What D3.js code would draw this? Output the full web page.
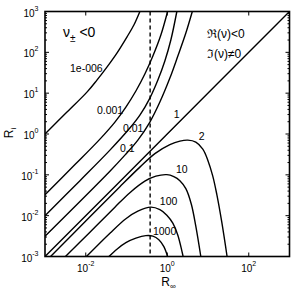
<!DOCTYPE html>
<html><head><meta charset="utf-8">
<script src="https://cdn.jsdelivr.net/npm/d3@7"></script>
<style>body{margin:0;background:#fff}svg{display:block}</style>
</head><body>
<script>
// ---- data (R_inf, R_i) ----
const levelNames = ["1e-006","0.001","0.01","0.1","1","2","10","100","1000"];
const c1e6  = [[0.001,1.0],[0.00327,3.25],[0.0107,10.6],[0.0188,20.9],[0.0331,43.6],[0.0582,96.1],[0.1023,237],[0.1518,467],[0.213,1000]];
const c0001 = [[0.001,0.0327],[0.00544,0.178],[0.0223,0.75],[0.052,1.96],[0.0966,4.56],[0.17,11.3],[0.282,29.4],[0.444,81.1],[0.697,265],[1.02,1000]];
const c001  = [[0.001,0.01],[0.00721,0.0721],[0.0392,0.403],[0.121,1.40],[0.213,2.90],[0.375,7.59],[0.589,20.9],[0.873,61.2],[1.225,200],[1.72,1000]];
const c01   = [[0.001,0.00315],[0.0392,0.123],[0.0914,0.304],[0.19,0.708],[0.375,1.96],[0.659,6.05],[1.16,23.4],[1.82,81.1],[2.86,297],[4.12,1000]];
const c1    = [[0.001,0.001],[1,1],[1000,1000]];
const c2    = [[0.00137,0.001],[0.01268,0.00944],[0.0689,0.0514],[0.213,0.1545],[0.497,0.331],[1.16,0.55],[2.04,0.67],[3.2,0.708],[5.02,0.633],[7.46,0.427],[9.89,0.229],[13.1,0.0929],[16.4,0.0337],[21.8,0.00693],[29.4,0.001]];
const c10   = [[0.00318,0.001],[0.01268,0.00394],[0.052,0.01615],[0.121,0.0366],[0.282,0.0701],[0.526,0.0929],[0.977,0.101],[1.45,0.0904],[2.04,0.0721],[2.86,0.0459],[3.9,0.0191],[5.02,0.00553],[6.66,0.001]];
const c100  = [[0.0104,0.001],[0.0392,0.00372],[0.0966,0.00843],[0.19,0.01288],[0.396,0.01615],[0.659,0.01403],[0.977,0.01028],[1.37,0.00655],[1.82,0.00333],[2.45,0.001]];
const c1000 = [[0.0371,0.001],[0.0582,0.00151],[0.0966,0.00218],[0.17,0.00281],[0.298,0.00324],[0.444,0.00315],[0.622,0.00258],[0.826,0.00174],[1.02,0.001]];
const curves = [c1e6,c0001,c001,c01,c1,c2,c10,c100,c1000];
const labelPos = [[0.0041,32.9],[0.0188,3.16],[0.0817,1.11],[0.0689,0.371],[1.45,2.45],[5.96,0.708],[1.63,0.110],[0.659,0.0181],[0.444,0.00333]];
const dividerRinf = 0.38;
const xTickValues = [1e-2,1,1e2];
const xTickExp = ["-2","0","2"];
const yTickValues = [1e-3,1e-2,1e-1,1,1e1,1e2,1e3];
const yTickExp = ["-3","-2","-1","0","1","2","3"];

// ---- drawing ----
const W=293,H=291, L=45, R=289.5, T=11.5, B=256.5;
const svg=d3.select("body").append("svg").attr("width",W).attr("height",H)
  .style("font-family","'Liberation Sans',Arial,Helvetica,sans-serif");
const x=d3.scaleLog().domain([1e-3,1e3]).range([L,R]);
const y=d3.scaleLog().domain([1e-3,1e3]).range([B,T]);

svg.append("defs").append("clipPath").attr("id","clip")
  .append("rect").attr("x",L).attr("y",T).attr("width",R-L).attr("height",B-T);

const g=svg.append("g").attr("clip-path","url(#clip)");
const line=d3.line().x(d=>x(d[0])).y(d=>y(d[1])).curve(d3.curveCatmullRom.alpha(0.5));
g.selectAll("path.c").data(curves).join("path").attr("class","c")
  .attr("d",line).attr("fill","none").attr("stroke","#000").attr("stroke-width",1.4);

// dashed divider
g.append("line").attr("x1",x(dividerRinf)).attr("x2",x(dividerRinf)).attr("y1",T).attr("y2",B)
  .attr("stroke","#000").attr("stroke-width",1.4).attr("stroke-dasharray","4,3");

// contour labels
svg.selectAll("text.lv").data(levelNames).join("text").attr("class","lv")
  .attr("x",(d,i)=>x(labelPos[i][0])).attr("y",(d,i)=>y(labelPos[i][1]))
  .attr("font-size",10.5).attr("fill","#000").text(d=>d);

// ticks: major + minor on y (left/right), major on x (bottom/top)
const tk=svg.append("g").attr("stroke","#000").attr("stroke-width",1);
const minors=[];
for(let e=-3;e<3;e++) for(let k=2;k<10;k++) minors.push(k*Math.pow(10,e));
yTickValues.forEach(v=>{
  tk.append("line").attr("x1",L).attr("x2",L+4).attr("y1",y(v)).attr("y2",y(v));
  tk.append("line").attr("x1",R-4).attr("x2",R).attr("y1",y(v)).attr("y2",y(v));
});
minors.forEach(v=>{
  tk.append("line").attr("x1",L).attr("x2",L+2).attr("y1",y(v)).attr("y2",y(v));
  tk.append("line").attr("x1",R-2).attr("x2",R).attr("y1",y(v)).attr("y2",y(v));
});
xTickValues.forEach(v=>{
  tk.append("line").attr("x1",x(v)).attr("x2",x(v)).attr("y1",B).attr("y2",B-4);
  tk.append("line").attr("x1",x(v)).attr("x2",x(v)).attr("y1",T).attr("y2",T+4);
});

// frame
svg.append("rect").attr("x",L).attr("y",T).attr("width",R-L).attr("height",B-T)
  .attr("fill","none").attr("stroke","#000").attr("stroke-width",1.6);

// tick labels
xTickValues.forEach((v,i)=>{
  const t=svg.append("text").attr("x",x(v)).attr("y",B+15.5).attr("text-anchor","middle")
    .attr("font-size",10).attr("fill","#000");
  t.append("tspan").text("10");
  t.append("tspan").attr("dy",-6).attr("font-size",7).text(xTickExp[i]);
});
yTickValues.forEach((v,i)=>{
  const t=svg.append("text").attr("x",38.5).attr("y",y(v)+5).attr("text-anchor","end")
    .attr("font-size",10).attr("fill","#000");
  t.append("tspan").text("10");
  t.append("tspan").attr("dy",-6).attr("font-size",7).text(yTickExp[i]);
});

// axis labels
const xl=svg.append("text").attr("x",168.5).attr("y",286).attr("text-anchor","middle")
  .attr("font-size",12).attr("fill","#000");
xl.append("tspan").text("R");
xl.append("tspan").attr("dy",3).attr("font-size",8).text("\u221E");
const yl=svg.append("text").attr("transform","translate(13,133) rotate(-90)").attr("text-anchor","middle")
  .attr("font-size",12).attr("fill","#000");
yl.append("tspan").text("R");
yl.append("tspan").attr("dy",3).attr("font-size",8).text("i");

// region annotations
const a1=svg.append("text").attr("x",63).attr("y",37).attr("font-size",14).attr("fill","#000");
a1.append("tspan").text("\u03BD");
a1.append("tspan").attr("dy",5).attr("font-size",10).text("\u00B1");
a1.append("tspan").attr("dy",-5).text(" <0");
svg.append("text").attr("x",207).attr("y",38).attr("font-size",12).attr("fill","#000")
  .text("\u211C(\u03BD)<0");
svg.append("text").attr("x",207).attr("y",58).attr("font-size",12).attr("fill","#000")
  .text("\u2111(\u03BD)\u22600");
</script>
</body></html>
